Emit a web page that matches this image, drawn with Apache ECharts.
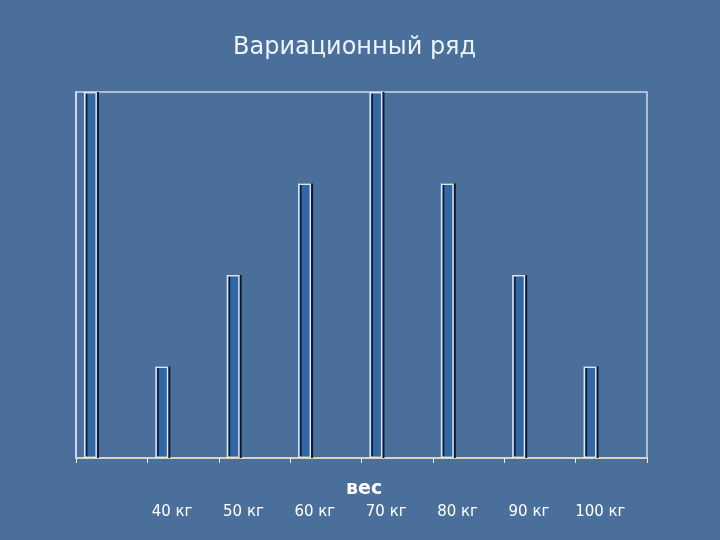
<!DOCTYPE html>
<html>
<head>
<meta charset="utf-8">
<script src="https://cdn.jsdelivr.net/npm/echarts@6/dist/echarts.min.js"></script>
<style>html,body{margin:0;padding:0;background:#4b6f9b;}#c{width:720px;height:540px;}</style>
</head>
<body>
<div id="c"></div>
<script>
var titleText = 'Вариационный ряд';
var axisName = 'вес';
var categories = ['', '40 кг', '50 кг', '60 кг', '70 кг', '80 кг', '90 кг', '100 кг'];
var values = [4, 1, 2, 3, 4, 3, 2, 1];
var spacer = categories.map(function () { return null; });

var chart = echarts.init(document.getElementById('c'));
chart.setOption({
  backgroundColor: '#4b6f9b',
  animation: false,
  title: [{
    text: titleText,
    left: 228, top: 31,
    textStyle: { color: '#eef3f9', fontFamily: 'DejaVu Sans', fontWeight: 'normal', fontSize: 24 }
  }, {
    text: axisName,
    left: 341, top: 475,
    textStyle: { color: '#ffffff', fontFamily: 'DejaVu Sans', fontWeight: 'bold', fontSize: 19 }
  }],
  grid: {
    left: 76, right: 73, top: 92, bottom: 82,
    outerBoundsMode: 'none',
    show: true, borderColor: '#c9d9ec', borderWidth: 1.5, backgroundColor: 'transparent'
  },
  xAxis: {
    type: 'category',
    data: categories,
    boundaryGap: true,
    axisLine: { show: true, lineStyle: { color: '#d9d3bd', width: 2 } },
    axisTick: { show: true, length: 5, lineStyle: { color: '#e8eef6' } },
    axisLabel: { interval: 0, margin: 47, color: '#ffffff', fontFamily: 'DejaVu Sans', fontSize: 15, padding: [0, 22, 0, 0] },
    splitLine: { show: false }
  },
  yAxis: {
    type: 'value', min: 0, max: 4,
    axisLine: { show: true, lineStyle: { color: '#d6e2f0', width: 1.5 } },
    axisTick: { show: false }, axisLabel: { show: false }, splitLine: { show: false }
  },
  series: [
    {
      type: 'bar', data: values, barWidth: 13, barGap: '227%',
      itemStyle: {
        color: '#3367a3', borderColor: '#dbe7f6', borderWidth: 1.5,
        shadowColor: '#0b1a33', shadowOffsetX: 2, shadowOffsetY: 0, shadowBlur: 0
      }
    },
    {
      type: 'bar', data: spacer, barWidth: 13, itemStyle: { opacity: 0 }, silent: true
    }
  ]
});
</script>
</body>
</html>
